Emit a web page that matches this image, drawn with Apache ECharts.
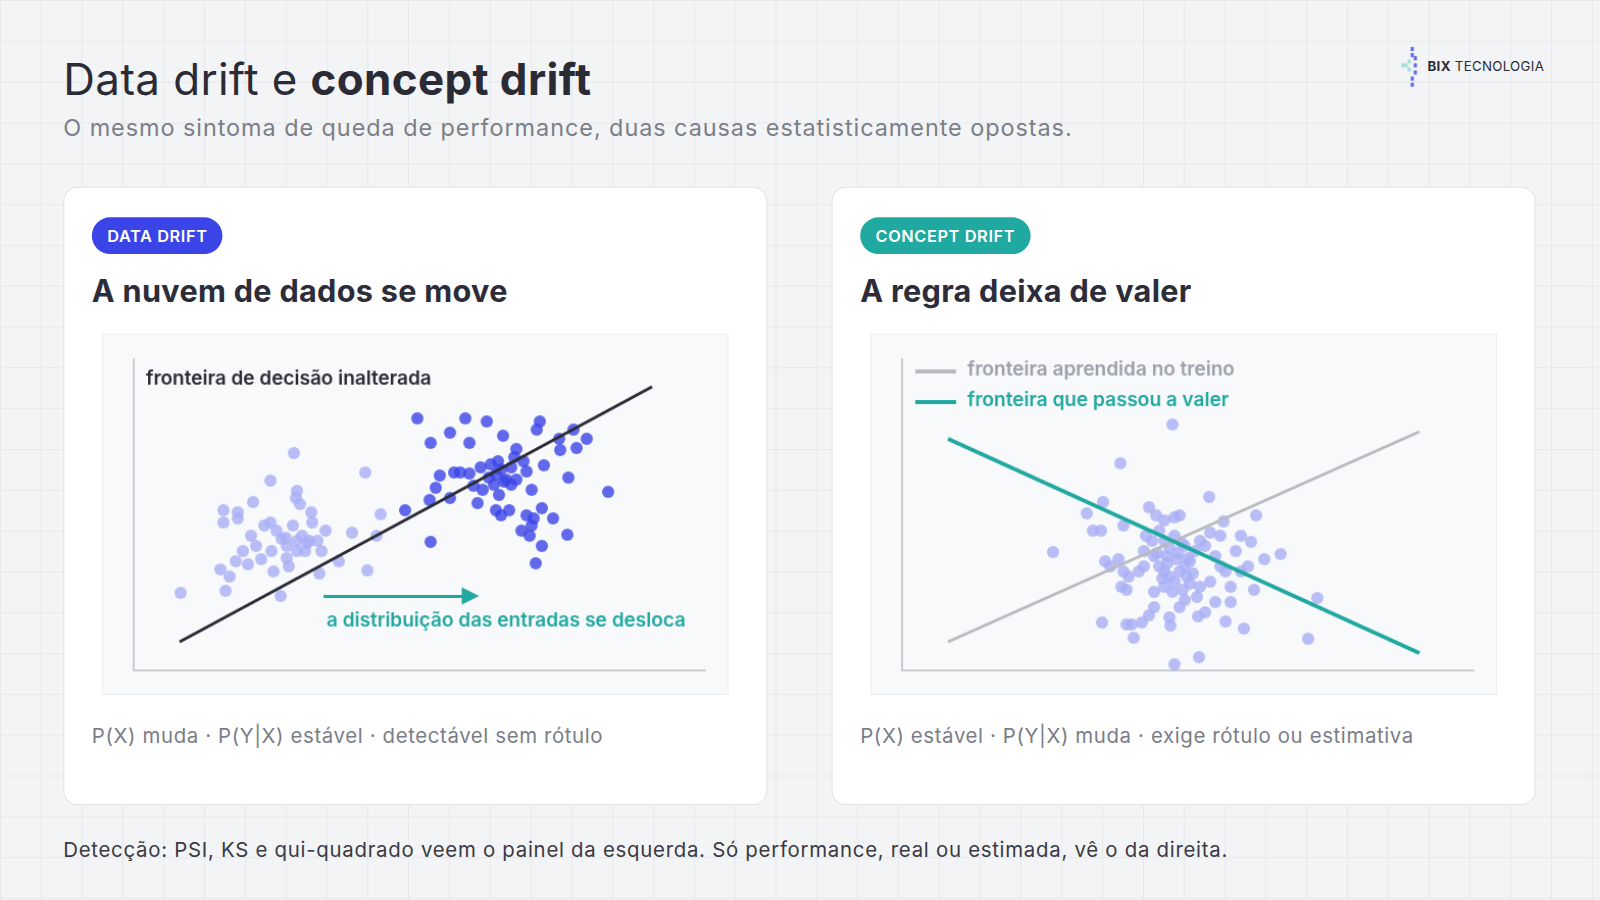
<!DOCTYPE html>
<html lang="pt">
<head>
<meta charset="UTF-8" />
<title>Data drift e concept drift</title>
<script src="https://cdn.jsdelivr.net/npm/echarts@6/dist/echarts.min.js"></script>
<style>
  body { margin: 0; width: 1600px; height: 900px; overflow: hidden; background: #f3f4f6; }
  #page {
    position: relative; width: 1568px; height: 882px;
    transform: scale(1.0204); transform-origin: 0 0;
    font-family: Inter, "Noto Sans", sans-serif;
    background-color: #f3f4f6;
    background-image: linear-gradient(#e6e8ec 1px, transparent 1px), linear-gradient(90deg, #e6e8ec 1px, transparent 1px);
    background-size: 40px 40px;
  }
  .abs { position: absolute; }
  .title { left: 62px; top: 51px; font-size: 43px; color: #2b2b36; letter-spacing: 0.4px; }
  .sub { left: 62px; top: 111px; font-size: 23px; color: #7c7f88; letter-spacing: 0.9px; }
  .card { top: 183px; width: 690px; height: 606px; background: #fff; border: 1px solid #e1e3e8; border-radius: 14px; box-sizing: border-box; }
  .badge { top: 29px; left: 27px; height: 36px; line-height: 36px; padding: 0 15px; border-radius: 18px; color: #fff; font-weight: 600; font-size: 16px; letter-spacing: 0.6px; }
  .head { top: 83px; left: 27px; font-size: 30px; font-weight: 700; color: #2d2d3a; letter-spacing: 0.3px; }
  .panel { top: 143px; left: 37px; width: 614px; height: 354px; background: #f8f9fb; border: 1px solid #eceef2; box-sizing: border-box; }
  .foot { top: 525px; left: 27px; font-size: 20px; color: #7a7d87; letter-spacing: 0.6px; }
  .bottom { left: 62px; top: 821px; font-size: 20px; color: #3a3a44; letter-spacing: 0.7px; }
  .logo { left: 1399px; top: 57px; font-size: 13px; color: #2b2b36; letter-spacing: 0.3px; }
</style>
</head>
<body>
<div id="page">
<div class="abs title">Data drift e <b>concept drift</b></div>
<div class="abs sub">O mesmo sintoma de queda de performance, duas causas estatisticamente opostas.</div>
<div class="abs logo"><b>BIX</b> TECNOLOGIA</div>
<div class="abs" id="logoDots" style="left:1372px;top:46px;width:24px;height:40px"></div>

<div class="abs card" style="left:62px">
  <div class="abs badge" style="background:#3b44e6">DATA DRIFT</div>
  <div class="abs head">A nuvem de dados se move</div>
  <div class="abs panel"><div id="left" style="width:612px;height:352px"></div></div>
  <div class="abs foot">P(X) muda · P(Y|X) estável · detectável sem rótulo</div>
</div>
<div class="abs card" style="left:815px">
  <div class="abs badge" style="background:#1fa9a0">CONCEPT DRIFT</div>
  <div class="abs head">A regra deixa de valer</div>
  <div class="abs panel"><div id="right" style="width:612px;height:352px"></div></div>
  <div class="abs foot">P(X) estável · P(Y|X) muda · exige rótulo ou estimativa</div>
</div>
<div class="abs bottom">Detecção: PSI, KS e qui-quadrado veem o painel da esquerda. Só performance, real ou estimada, vê o da direita.</div>
</div>

<script type="text/javascript">
// left panel: treino (claro) e produção (escuro)
var trainPoints = [[157,213],[134,186],[227,194],[88,157],[88,145],[102,155],[102,149],[117,165],[160,176],[163,163],[159,169],[174,155],[175,145],[115,132],[128,142],[134,145],[140,137],[149,130],[156,142],[165,132],[170,125],[180,127],[188,137],[120,122],[135,117],[150,110],[107,117],[100,107],[112,104],[125,109],[160,117],[168,117],[184,117],[214,135],[242,153],[238,132],[85,99],[94,92],[137,97],[152,102],[201,107],[229,98],[150,122],[145,129],[160,127],[46,76],[90,78],[144,73],[182,95],[172,127]];
var prodPoints = [[278,247],[310,233],[325,247],[346,244],[398,244],[395,236],[291,223],[329,223],[362,230],[375,217],[373,209],[382,205],[402,201],[417,227],[431,236],[444,227],[418,216],[434,218],[300,191],[314,194],[320,194],[329,193],[333,181],[342,177],[355,192],[360,197],[365,187],[370,182],[375,187],[385,195],[353,182],[358,172],[296,179],[290,167],[310,169],[337,164],[266,157],[355,157],[360,152],[368,157],[385,152],[390,142],[392,149],[400,159],[411,149],[426,189],[465,175],[380,137],[388,132],[400,122],[425,133],[291,126],[394,105],[350,202],[363,185],[348,189],[340,199],[370,199],[390,177],[357,205]];
var fixedBoundary = [[45,28],[508,278]];
var shiftArrow = [[186,73],[330,73]];

// right panel
var rightPoints = [[265,241],[214,203],[301,170],[148,116],[197,165],[181,154],[187,137],[195,137],[217,142],[242,160],[249,152],[257,147],[267,150],[272,152],[315,146],[347,152],[332,132],[342,126],[355,109],[371,114],[407,71],[398,31],[335,41],[317,48],[297,57],[290,53],[289,72],[277,69],[272,62],[262,52],[263,44],[242,54],[235,47],[247,62],[225,45],[220,45],[227,32],[196,47],[267,6],[291,13],[293,-16],[199,107],[204,102],[212,109],[217,97],[222,92],[215,82],[220,79],[237,117],[247,112],[252,102],[257,97],[262,92],[267,87],[272,97],[277,102],[282,107],[287,117],[292,127],[297,122],[307,112],[312,102],[317,97],[302,87],[292,82],[282,85],[257,82],[247,77],[322,82],[332,97],[339,102],[345,79],[307,67],[322,67],[257,127],[267,132],[277,122],[245,127],[252,137],[239,132],[259,112],[269,109],[279,92],[265,77],[275,79],[327,117],[312,132],[302,135],[237,102],[232,97],[260,105],[270,115],[280,110],[255,90],[285,95],[262,120],[274,125],[250,115]];
var trainBoundary = [[45,28],[507,234]];
var newBoundary = [[45,227],[507,17]];

var lightBlue = "#a8aef5";
var darkBlue = "#3b44e6";
var teal = "#21a8a0";
var labelFont = "600 19px Inter, sans-serif";

function baseAxes() {
  return {
    animation: false,
    grid: { left: 30, top: 24, width: 560, height: 305 },
    xAxis: { type: "value", min: 0, max: 560, axisLine: { show: true, lineStyle: { color: "#c9cbd1", width: 2 } }, axisTick: { show: false }, axisLabel: { show: false }, splitLine: { show: false } },
    yAxis: { type: "value", min: 0, max: 305, axisLine: { show: true, lineStyle: { color: "#c9cbd1", width: 2 } }, axisTick: { show: false }, axisLabel: { show: false }, splitLine: { show: false } }
  };
}

var left = echarts.init(document.getElementById("left"));
var lo = baseAxes();
lo.series = [
  { type: "scatter", data: trainPoints, symbolSize: 12, itemStyle: { color: lightBlue }, z: 2 },
  { type: "scatter", data: prodPoints, symbolSize: 12, itemStyle: { color: darkBlue }, z: 3 },
  { type: "line", data: fixedBoundary, symbol: "none", lineStyle: { color: "#2b2b36", width: 3 }, z: 4 },
  { type: "lines", coordinateSystem: "cartesian2d", data: [{ coords: shiftArrow }],
    symbol: ["none", "triangle"], symbolSize: 17, lineStyle: { color: teal, width: 3, opacity: 1 }, z: 4 }
];
lo.graphic = [
  { type: "text", left: 42, top: 34, style: { text: "fronteira de decisão inalterada", fill: "#2b2b36", font: labelFont } },
  { type: "text", left: 219, top: 271, style: { text: "a distribuição das entradas se desloca", fill: teal, font: labelFont } }
];
left.setOption(lo);

var right = echarts.init(document.getElementById("right"));
var ro = baseAxes();
ro.series = [
  { type: "scatter", data: rightPoints, symbolSize: 12, itemStyle: { color: lightBlue }, z: 2 },
  { type: "line", data: trainBoundary, symbol: "none", lineStyle: { color: "#b8bac0", width: 3 }, z: 3 },
  { type: "line", data: newBoundary, symbol: "none", lineStyle: { color: teal, width: 4 }, z: 4 }
];
ro.graphic = [
  { type: "rect", left: 43, top: 34, shape: { width: 40, height: 4 }, style: { fill: "#b8bac0" } },
  { type: "text", left: 94, top: 25, style: { text: "fronteira aprendida no treino", fill: "#9ca0aa", font: labelFont } },
  { type: "rect", left: 43, top: 64, shape: { width: 40, height: 4 }, style: { fill: teal } },
  { type: "text", left: 94, top: 55, style: { text: "fronteira que passou a valer", fill: teal, font: labelFont } }
];
right.setOption(ro);

// logo mark
var logo = echarts.init(document.getElementById("logoDots"));
var logoDark = [[12,38],[12,32],[15,29],[15,22],[15,15],[12,9],[12,3]];
var logoLight = [[6,22],[9,26],[9,18],[3,22]];
logo.setOption({
  animation: false,
  grid: { left: 0, top: 0, right: 0, bottom: 0 },
  xAxis: { type: "value", min: 0, max: 24, show: false },
  yAxis: { type: "value", min: 0, max: 40, show: false },
  series: [
    { type: "scatter", data: logoDark, symbol: "rect", symbolSize: [3, 4], itemStyle: { color: darkBlue } },
    { type: "scatter", data: logoLight, symbol: "rect", symbolSize: [3, 4], itemStyle: { color: "#8fd8d2" } }
  ]
});
</script>
</body>
</html>
